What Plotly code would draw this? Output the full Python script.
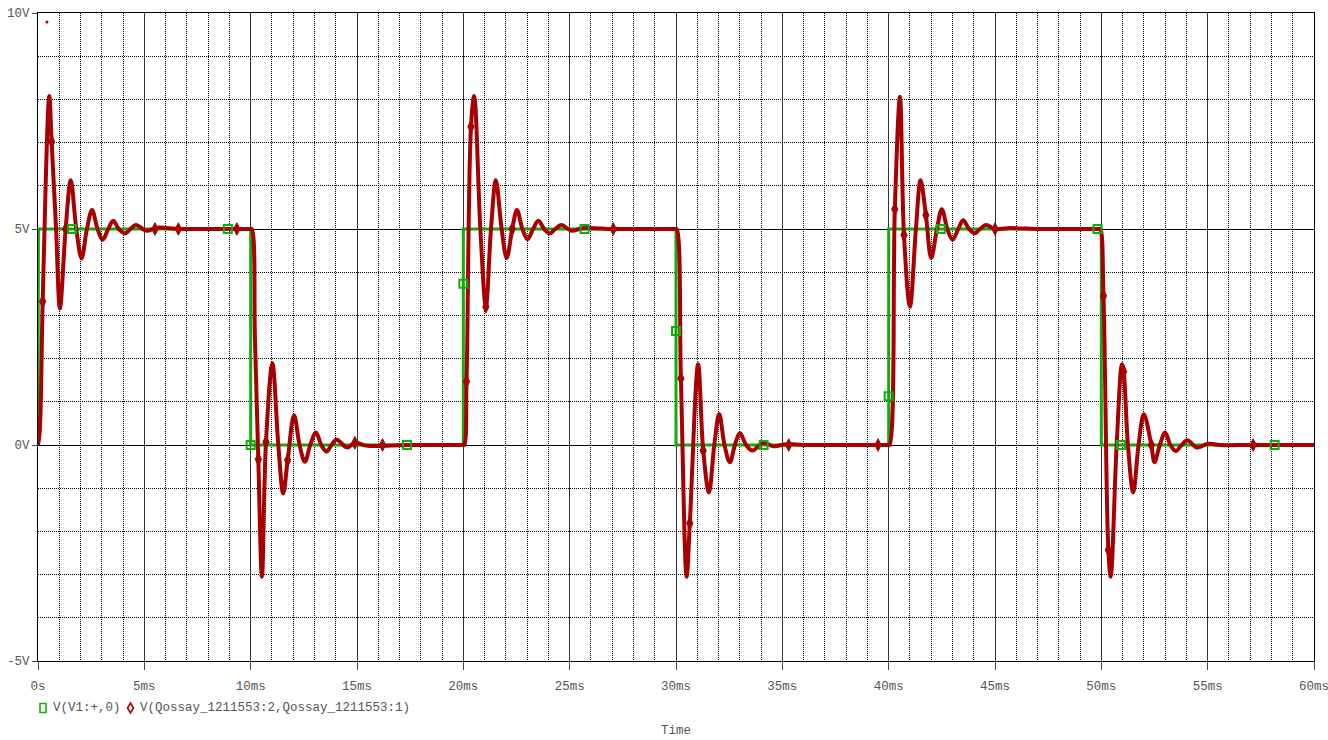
import plotly.graph_objects as go

# ---- data (time in ms, voltage in V) ----
green_t = [0, 0.02, 10.0, 10.0, 20.0, 20.0, 30.0, 30.0, 40.0, 40.0, 50.0, 50.0, 60]
green_v = [0, 5, 5, 0, 0, 5, 5, 0, 0, 5, 5, 0, 0]

green_mark_t = [1.6, 8.93, 10.0, 17.35, 20.0, 25.7, 30.0, 34.12, 40.0, 42.45, 49.82, 50.92, 58.15]
green_mark_v = [5, 5, 0, 0, 3.73, 5, 2.64, 0, 1.13, 5, 5, 0, 0]

red_t = [
    0, 0.08, 0.22, 0.53, 0.64, 0.85, 1.03, 1.30, 1.54, 1.80, 2.05, 2.30, 2.54, 2.80, 3.04, 3.30, 3.54,
    3.80, 4.09, 4.35, 4.60, 5.10, 5.60, 6.6, 8.0, 9.35, 9.97,
    10.05, 10.20, 10.36, 10.53, 10.72, 11.02, 11.30, 11.53, 11.74, 12.04, 12.30, 12.55, 12.80, 13.07,
    13.32, 13.57, 13.80, 14.04, 14.54, 14.9, 15.5, 17.35, 18.8, 19.97,
    20.04, 20.15, 20.36, 20.51, 20.80, 21.06, 21.30, 21.53, 21.80, 22.04, 22.30, 22.52, 22.78, 23.02,
    23.28, 23.53, 23.80, 24.07, 24.33, 24.6, 25.1, 25.6, 27.05, 28.6, 29.96,
    30.03, 30.23, 30.50, 30.65, 31.04, 31.28, 31.55, 31.80, 32.03, 32.28, 32.53, 32.77, 33.0, 33.3,
    33.6, 34.1, 34.6, 35.2, 36.0, 37.8, 39.4, 39.97,
    40.04, 40.29, 40.53, 40.72, 41.0, 41.28, 41.5, 41.75, 42.0, 42.27, 42.5, 42.76, 43.0, 43.27, 43.5,
    43.78, 44.05, 44.3, 44.58, 45.0, 45.6, 47.2, 48.8, 49.88,
    49.95, 50.10, 50.33, 50.44, 50.72, 50.97, 51.05, 51.25, 51.5, 51.75, 52.0, 52.35, 52.5, 52.75,
    53.0, 53.25, 53.5, 53.78, 54.04, 54.5, 55.0, 55.6, 57.14, 60,
]
red_v = [
    0, 0.3, 3.32, 8.08, 7.02, 5.0, 3.16, 5.0, 6.13, 5.0, 4.32, 5.0, 5.44, 5.0, 4.75, 5.0, 5.19,
    5.0, 4.90, 5.0, 5.09, 4.96, 5.03, 5.0, 5.0, 5.0, 5.0,
    5.0, 2.5, -0.33, -3.05, 0.07, 1.89, 0.0, -1.12, -0.35, 0.69, 0.0, -0.39, 0.0, 0.29,
    0.0, -0.15, 0.0, 0.12, -0.06, 0.05, -0.02, 0.0, 0.0, 0.0,
    0.0, 1.47, 7.37, 8.08, 5.0, 3.2, 5.0, 6.13, 5.0, 4.33, 5.0, 5.44, 5.0, 4.76,
    5.0, 5.19, 5.0, 4.9, 5.0, 5.09, 4.96, 5.02, 5.0, 5.0, 5.0,
    5.0, 1.54, -3.05, -1.81, 1.87, -0.13, -1.1, 0.0, 0.72, 0.0, -0.4, 0.0, 0.28, 0.0,
    -0.13, 0.05, -0.03, 0.02, 0.0, 0.0, 0.0, 0.0,
    0.0, 5.46, 8.06, 4.86, 3.2, 5.0, 6.13, 5.32, 4.33, 5.0, 5.46, 5.0, 4.75, 5.0, 5.2,
    5.0, 4.9, 5.0, 5.09, 5.0, 5.02, 5.0, 5.0, 5.0,
    5.0, 3.45, -2.43, -3.05, 0.0, 1.87, 1.7, 0.0, -1.1, 0.0, 0.71, 0.0, -0.4, 0.0,
    0.29, 0.0, -0.14, 0.0, 0.11, -0.06, 0.03, 0.0, 0.0, 0.0,
]

red_mark_t = [0.22, 0.64, 1.30, 5.5, 6.6, 9.35, 10.36, 10.72, 11.74, 14.9, 16.2, 20.15, 20.36, 21.06,
              22.3, 27.05, 30.23, 30.65, 31.28, 35.3, 39.5, 40.29, 40.72, 41.75, 45.0, 50.10, 50.33,
              51.05, 52.35, 57.14]
red_mark_v = [3.32, 7.02, 5.0, 5.0, 5.0, 5.0, -0.33, 0.07, -0.35, 0.05, 0.0, 1.47, 7.37, 3.2,
              5.0, 5.0, 1.54, -1.81, -0.13, 0.0, 0.0, 5.46, 4.86, 5.32, 5.0, 3.45, -2.43,
              1.7, 0.0, 0.0]

stray_t = [0.42]
stray_v = [9.79]

x_tick_vals = [0, 5, 10, 15, 20, 25, 30, 35, 40, 45, 50, 55, 60]
x_tick_text = ["0s", "5ms", "10ms", "15ms", "20ms", "25ms", "30ms", "35ms", "40ms", "45ms",
               "50ms", "55ms", "60ms"]
y_tick_vals = [-5, 0, 5, 10]
y_tick_text = ["-5V", "0V", "5V", "10V"]

legend_names = ["V(V1:+,0)", "V(Qossay_1211553:2,Qossay_1211553:1)"]
x_title = "Time"

GREEN = "#0fae0f"
RED = "#a80000"
FONT = "Liberation Mono"
TXT = "#555555"

fig = go.Figure()
fig.add_trace(go.Scatter(x=green_t, y=green_v, mode="lines",
                         line=dict(color=GREEN, width=3), showlegend=False, hoverinfo="skip"))
fig.add_trace(go.Scatter(x=red_t, y=red_v, mode="lines",
                         line=dict(color=RED, width=4, shape="spline", smoothing=1),
                         showlegend=False, hoverinfo="skip"))
fig.add_trace(go.Scatter(x=red_mark_t, y=red_mark_v, mode="markers",
                         marker=dict(symbol="diamond-tall", size=9, color=RED,
                                     line=dict(color=RED, width=1)),
                         showlegend=False, hoverinfo="skip"))
fig.add_trace(go.Scatter(x=green_mark_t, y=green_mark_v, mode="markers",
                         marker=dict(symbol="square-open", size=8, color=GREEN,
                                     line=dict(color=GREEN, width=2)),
                         showlegend=False, hoverinfo="skip"))
fig.add_trace(go.Scatter(x=stray_t, y=stray_v, mode="markers",
                         marker=dict(size=3, color=RED), showlegend=False, hoverinfo="skip"))

W, H = 1328, 740
L, R, T, B = 38, 14, 13, 79
pw, ph = W - L - R, H - T - B


def px_x(p):
    return (p - L) / pw


def px_y(p):
    return (H - B - p) / ph


fig.update_layout(
    width=W, height=H,
    margin=dict(l=L, r=R, t=T, b=B, pad=0, autoexpand=False),
    paper_bgcolor="white", plot_bgcolor="white",
    showlegend=False,
    font=dict(family=FONT, size=12.5, color=TXT),
    xaxis=dict(
        range=[0, 60], tickmode="array", tickvals=x_tick_vals, ticktext=x_tick_text,
        automargin=False, ticklabeloverflow="allow",
        showgrid=True, gridcolor="#333333", gridwidth=1,
        zeroline=False, showline=True, mirror=True, linecolor="#000000", linewidth=1,
        ticks="outside", ticklen=8, tickcolor="#444444", tickwidth=1,
        ticklabelstandoff=5,
        minor=dict(tickmode="linear", tick0=0, dtick=1, showgrid=True,
                   gridcolor="#000000", griddash="1px,1px", gridwidth=1, ticks=""),
        tickfont=dict(family=FONT, size=12.5, color=TXT),
        fixedrange=True,
    ),
    yaxis=dict(
        range=[-5, 10], tickmode="array", tickvals=y_tick_vals, ticktext=y_tick_text,
        automargin=False, ticklabeloverflow="allow",
        showgrid=True, gridcolor="#000000", gridwidth=1,
        zeroline=False, showline=True, mirror=True, linecolor="#000000", linewidth=1,
        ticks="outside", ticklen=5, tickcolor="#444444", tickwidth=1,
        minor=dict(tickmode="linear", tick0=0, dtick=1, showgrid=True,
                   gridcolor="#000000", griddash="1px,1px", gridwidth=1, ticks=""),
        tickfont=dict(family=FONT, size=12.5, color=TXT),
        fixedrange=True,
    ),
)

# legend drawn as symbols + text below the plot
ly = px_y(708)
fig.add_shape(type="rect", xref="paper", yref="paper", xsizemode="pixel", ysizemode="pixel",
              xanchor=px_x(43), yanchor=ly, x0=-3, x1=3, y0=-4.5, y1=4.5,
              line=dict(color=GREEN, width=1.6), fillcolor="rgba(0,0,0,0)")
fig.add_shape(type="path", xref="paper", yref="paper", xsizemode="pixel", ysizemode="pixel",
              xanchor=px_x(130.5), yanchor=ly, path="M0,5 L3,0 L0,-5 L-3,0 Z",
              line=dict(color=RED, width=1.6), fillcolor="rgba(0,0,0,0)")
fig.add_annotation(x=px_x(51), y=ly, xref="paper", yref="paper", xanchor="left", yanchor="middle",
                   text=legend_names[0], showarrow=False, font=dict(family=FONT, size=12.5, color=TXT))
fig.add_annotation(x=px_x(138), y=ly, xref="paper", yref="paper", xanchor="left", yanchor="middle",
                   text=legend_names[1], showarrow=False, font=dict(family=FONT, size=12.5, color=TXT))
fig.add_annotation(x=0.5, y=px_y(731), xref="paper", yref="paper", xanchor="center", yanchor="middle",
                   text=x_title, showarrow=False, font=dict(family=FONT, size=12.5, color=TXT))

fig.write_html("out.html")
